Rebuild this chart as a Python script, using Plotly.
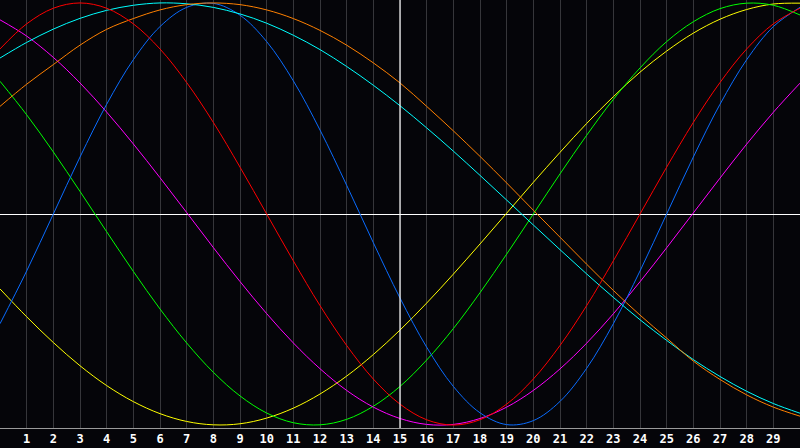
import plotly.graph_objects as go

# x positions (one reading per grid step) and the bottom tick labels
steps = list(range(31))
tick_vals = list(range(1, 30))
tick_labels = [str(i) for i in tick_vals]

# values, -1 .. 1
red = [0.782, 0.901, 0.975, 1.0, 0.975, 0.901, 0.782, 0.623, 0.434, 0.222, 0.0,
       -0.222, -0.434, -0.623, -0.782, -0.901, -0.975, -1.0, -0.975, -0.901, -0.782,
       -0.623, -0.434, -0.222, 0.0, 0.222, 0.434, 0.623, 0.782, 0.901, 0.975]
orange = [0.51, 0.615, 0.708, 0.8, 0.875, 0.926, 0.967, 0.992, 1.0, 0.992, 0.967,
          0.926, 0.87, 0.8, 0.716, 0.621, 0.51, 0.394, 0.273, 0.147, 0.018,
          -0.11, -0.238, -0.362, -0.479, -0.588, -0.697, -0.784, -0.857, -0.915, -0.958]
cyan = [0.739, 0.813, 0.876, 0.927, 0.965, 0.989, 1.0, 0.996, 0.979, 0.948, 0.904,
        0.847, 0.779, 0.699, 0.61, 0.513, 0.408, 0.298, 0.183, 0.066, -0.052,
        -0.169, -0.284, -0.395, -0.501, -0.599, -0.69, -0.77, -0.84, -0.898, -0.944]
blue = [-0.52, -0.27, 0.0, 0.27, 0.52, 0.731, 0.888, 0.979, 0.998, 0.942, 0.817,
        0.631, 0.398, 0.136, -0.136, -0.398, -0.631, -0.817, -0.942, -0.998, -0.979,
        -0.888, -0.731, -0.52, -0.27, 0.0, 0.27, 0.52, 0.731, 0.888, 0.979]
magenta = [0.92, 0.843, 0.742, 0.621, 0.483, 0.332, 0.172, 0.007, -0.159, -0.32, -0.472,
           -0.611, -0.733, -0.836, -0.915, -0.969, -0.997, -0.997, -0.969, -0.915, -0.836,
           -0.734, -0.612, -0.473, -0.321, -0.16, 0.005, 0.17, 0.331, 0.482, 0.62]
green = [0.629, 0.47, 0.294, 0.107, -0.084, -0.272, -0.45, -0.611, -0.75, -0.862, -0.943,
         -0.989, -0.999, -0.973, -0.911, -0.817, -0.692, -0.543, -0.373, -0.19, 0.0,
         0.19, 0.373, 0.543, 0.692, 0.817, 0.911, 0.973, 0.999, 0.989, 0.943]
yellow = [-0.355, -0.487, -0.609, -0.719, -0.813, -0.889, -0.946, -0.983, -0.999, -0.994, -0.967,
          -0.92, -0.853, -0.768, -0.666, -0.55, -0.422, -0.285, -0.142, 0.004, 0.15,
          0.292, 0.429, 0.556, 0.672, 0.772, 0.857, 0.923, 0.969, 0.995, 0.999]

series = [
    (yellow, '#ffff00'),
    (green, '#00ff00'),
    (magenta, '#ff00ff'),
    (blue, '#0a6cff'),
    (cyan, '#00ffff'),
    (orange, '#ff8000'),
    (red, '#ff0000'),
]

fig = go.Figure()
for vals, color in series:
    fig.add_trace(go.Scatter(
        x=steps, y=vals, mode='lines',
        line=dict(color=color, width=1, shape='spline'),
        hoverinfo='skip', showlegend=False,
    ))

# white centre line (vertical); the horizontal one is the y zeroline
fig.add_vline(x=15, line_color='#ffffff', line_width=1.2, layer='above')

fig.update_layout(
    width=800, height=448,
    margin=dict(l=0, r=0, t=0, b=20, pad=0),
    paper_bgcolor='#050509',
    plot_bgcolor='#050509',
    showlegend=False,
)
fig.update_xaxes(
    range=[0, 30], tickvals=tick_vals, ticktext=tick_labels,
    showgrid=True, gridcolor='#36363a', gridwidth=1,
    zeroline=False, ticks='',
    showline=True, linecolor='#9a9a9a', linewidth=1, mirror=True,
    tickfont=dict(family='DejaVu Sans Mono', size=12, color='#ffffff', weight='bold'),
)
fig.update_yaxes(
    range=[-1.014, 1.014], showgrid=False, showticklabels=False,
    zeroline=True, zerolinecolor='#ffffff', zerolinewidth=1,
    showline=True, linecolor='#9a9a9a', linewidth=1,
)

# page body has an 8px default margin; drop it so the chart fills the window
fig.write_html("out.html", config={'displayModeBar': False},
               post_script="document.body.style.margin='0';document.body.style.overflow='hidden';")
